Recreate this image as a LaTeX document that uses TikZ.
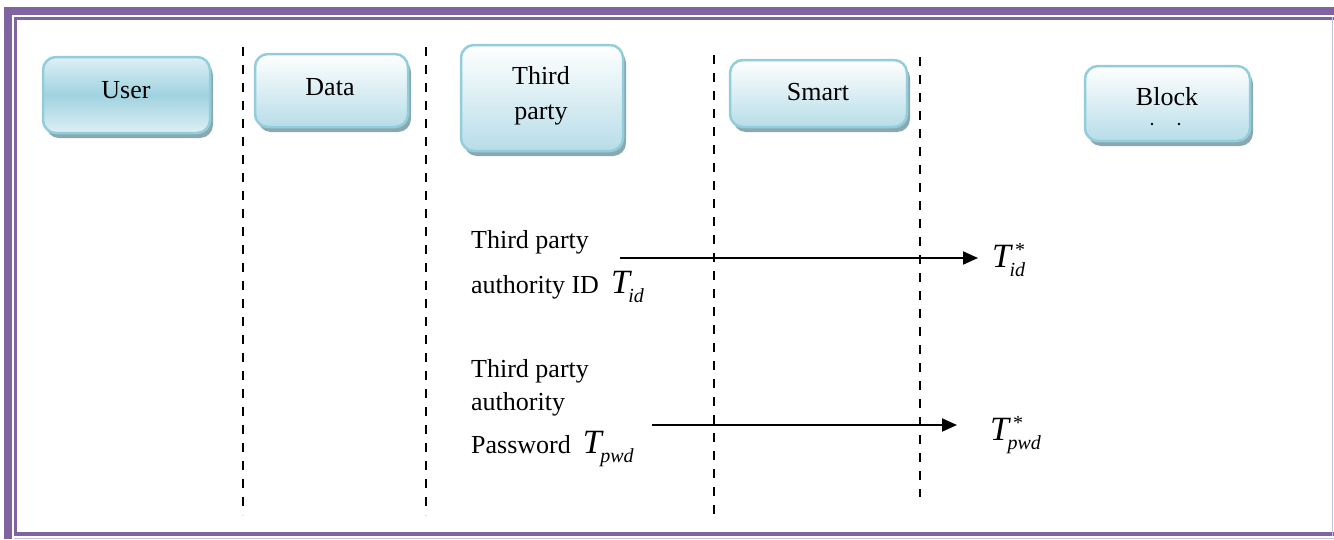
\documentclass[tikz,border=0pt]{standalone}
\usepackage{fontspec}
\setmainfont{Liberation Serif}
\usetikzlibrary{shadows,arrows.meta}
\definecolor{framec}{RGB}{128,100,162}
\definecolor{framelight}{RGB}{200,190,218}
\definecolor{boxline}{RGB}{146,205,220}
\definecolor{boxtop}{RGB}{255,255,255}
\definecolor{boxbot}{RGB}{183,221,232}
\definecolor{boxmid}{RGB}{160,210,224}
\definecolor{boxpale}{RGB}{222,240,245}
\definecolor{boxshadow}{RGB}{138,168,176}
\newcommand{\Tvar}[2]{{\fontsize{34}{34}\selectfont\itshape T}\makebox[0pt][l]{\hspace{4pt}\raisebox{11pt}{\fontsize{20}{20}\selectfont #1}}\hspace{-1.5pt}\raisebox{-9pt}{\fontsize{20}{20}\selectfont\itshape #2}}
\tikzset{
  actor/.style={draw=boxline, line width=2.5pt, rounded corners=13pt,
    top color=boxtop, bottom color=boxbot,
    drop shadow={shadow xshift=3pt, shadow yshift=-5pt, fill=boxshadow, opacity=1},
    inner sep=0pt},
  useractor/.style={actor, shading angle=30, top color=boxpale, bottom color=boxpale, middle color=boxmid},
  lbl/.style={font=\fontsize{26}{30}\selectfont, inner sep=0pt},
  lane/.style={dash pattern=on 9pt off 9pt, line width=2.5pt},
  msg/.style={line width=2pt, -{Triangle[length=15pt,width=13pt]}},
}
\begin{document}
\begin{tikzpicture}[x=1pt,y=-1pt]
\useasboundingbox (0,0) rectangle (1334,539);
% page frame
\fill[framec] (4,7) rectangle (1334,15);
\fill[framec] (4,7) rectangle (12,539);
\fill[framec] (14,17) rectangle (1334,20);
\fill[framec] (14,17) rectangle (17,535);
\fill[framec] (14,532) rectangle (1334,536);
\fill[framelight] (14,537.5) rectangle (1334,539);
\fill[framelight] (1331.5,17) rectangle (1333,536);
% lifelines
\draw[lane] (243,47) -- (243,515);
\draw[lane] (426,47) -- (426,515);
\draw[lane] (714,55) -- (714,515);
\draw[lane] (920,57) -- (920,497);
% actor boxes
\node[useractor, minimum width=167pt, minimum height=76pt] (user) at (126.5,95) {};
\node[lbl] (usert) at (126,90) {User};
\node[actor, minimum width=153pt, minimum height=73pt] (data) at (331.5,90.5) {};
\node[lbl] (datat) at (330,87) {Data};
\node[actor, minimum width=162pt, minimum height=106pt] (third) at (542,98) {};
\node[lbl, align=center, font=\fontsize{26}{35}\selectfont] (thirdt) at (541,96) {Third\\party};
\node[actor, minimum width=177pt, minimum height=67pt] (smart) at (818.5,93.5) {};
\node[lbl] (smartt) at (818,92) {Smart};
\node[actor, minimum width=165pt, minimum height=75pt] (block) at (1167.5,103.5) {};
\node[lbl] (blockt) at (1167,97) {Block};
\fill (1152,124) circle (1.3pt);
\fill (1179,124) circle (1.3pt);
% messages
\node[lbl, anchor=base west] (m1a) at (471,248) {Third party};
\node[lbl, anchor=base west] (m1b) at (471,293) {authority ID\hspace{12pt}\Tvar{}{id}};
\node[lbl, anchor=base west] (m2a) at (471,377) {Third party};
\node[lbl, anchor=base west] (m2b) at (471,410) {authority};
\node[lbl, anchor=base west] (m2c) at (471,453) {Password\hspace{12pt}\Tvar{}{pwd}};
\node[lbl, anchor=base west] (tid) at (992,267) {\Tvar{*}{id}};
\node[lbl, anchor=base west] (tpwd) at (990,440) {\Tvar{*}{pwd}};
\coordinate (a1s) at (620,258);
\coordinate (a1e) at (978,258);
\coordinate (a2s) at (652,425);
\coordinate (a2e) at (957,425);
\draw[msg] (a1s) -- (a1e);
\draw[msg] (a2s) -- (a2e);
\end{tikzpicture}
\end{document}
